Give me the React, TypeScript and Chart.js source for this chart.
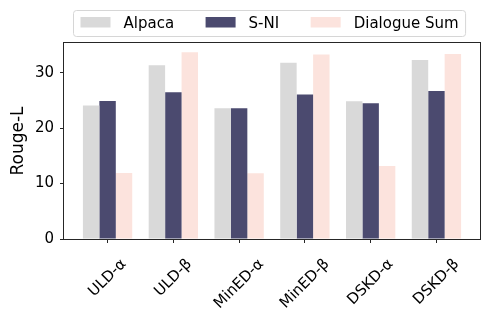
import React, { useEffect, useRef } from "react";
import { Chart, registerables } from "chart.js";

Chart.register(...registerables);

const categories = ["ULD-α", "ULD-β", "MinED-α", "MinED-β", "DSKD-α", "DSKD-β"];
const seriesNames = ["Alpaca", "S-NI", "Dialogue Sum"];
const alpaca = [24.1, 31.35, 23.6, 31.8, 24.85, 32.3];
const sni = [24.9, 26.5, 23.6, 26.1, 24.5, 26.7];
const dialogue = [11.9, 33.7, 11.85, 33.3, 13.2, 33.4];
const yTicks = [0, 10, 20, 30];
const colors = ["#d9d9d9", "#4b4a6f", "#fce3dd"];

const FONT = "'DejaVu Sans', sans-serif";

const framePlugin = {
  id: "frame",
  afterDraw(chart: any) {
    const ctx = chart.ctx;
    const a = chart.chartArea;
    ctx.save();
    ctx.strokeStyle = "#262626";
    ctx.lineWidth = 1;
    ctx.strokeRect(Math.round(a.left) - 0.5, Math.round(a.top) - 0.5, Math.round(a.right - a.left) + 1, Math.round(a.bottom - a.top) + 1);

    const xs = chart.scales.x;
    ctx.font = `15px ${FONT}`;
    ctx.fillStyle = "#000";
    ctx.textAlign = "center";
    ctx.textBaseline = "middle";
    const h = 17.5;
    const top = 255.5;
    categories.forEach((lab, i) => {
      const w = ctx.measureText(lab).width;
      const H = (w + h) * Math.SQRT1_2;
      const cx = xs.getPixelForValue(i);
      const cy = top + H / 2;
      ctx.save();
      ctx.translate(cx, cy);
      ctx.rotate(-Math.PI / 4);
      ctx.fillText(lab, 0, 0);
      ctx.restore();
    });

    ctx.save();
    ctx.font = `17px ${FONT}`;
    ctx.textAlign = "center";
    ctx.textBaseline = "alphabetic";
    ctx.translate(23.4, (a.top + a.bottom) / 2);
    ctx.rotate(-Math.PI / 2);
    ctx.fillText("Rouge-L", 0, 0);
    ctx.restore();

    const boxL = 73.5, boxT = 10.5, boxH = 26;
    ctx.font = `15px ${FONT}`;
    let x = boxL + 7;
    const items: { px: number; tx: number }[] = [];
    seriesNames.forEach((name) => {
      const px = x;
      const tx = px + 30 + 13;
      const tw = ctx.measureText(name).width;
      items.push({ px, tx });
      x = tx + tw + 31.5;
    });
    const lastW = ctx.measureText(seriesNames[seriesNames.length - 1]).width;
    const boxR = items[items.length - 1].tx + lastW + 7;
    ctx.beginPath();
    const r = 3;
    const bw = boxR - boxL;
    ctx.moveTo(boxL + r, boxT);
    ctx.arcTo(boxL + bw, boxT, boxL + bw, boxT + boxH, r);
    ctx.arcTo(boxL + bw, boxT + boxH, boxL, boxT + boxH, r);
    ctx.arcTo(boxL, boxT + boxH, boxL, boxT, r);
    ctx.arcTo(boxL, boxT, boxL + bw, boxT, r);
    ctx.closePath();
    ctx.fillStyle = "rgba(255,255,255,0.8)";
    ctx.fill();
    ctx.strokeStyle = "#d6d6d6";
    ctx.lineWidth = 1;
    ctx.stroke();
    seriesNames.forEach((name, i) => {
      ctx.fillStyle = colors[i];
      ctx.fillRect(items[i].px, 17, 30, 10.5);
      ctx.fillStyle = "#000";
      ctx.textAlign = "left";
      ctx.textBaseline = "alphabetic";
      ctx.fillText(name, items[i].tx, 28);
    });
    ctx.restore();
  },
};

export default function App() {
  const ref = useRef<HTMLCanvasElement | null>(null);
  useEffect(() => {
    if (!ref.current) return;
    const allVals = [...alpaca, ...sni, ...dialogue];
    const yMax = Math.max(...allVals) * 1.05;
    const n = categories.length;
    const xMargin = (n - 1 + 0.75) * 0.05;
    const mk = (arr: number[]) => arr.map((v, i) => ({ x: i, y: v }));
    const chart = new Chart(ref.current, {
      type: "bar",
      data: {
        datasets: [
          { label: seriesNames[0], data: mk(alpaca), backgroundColor: colors[0] },
          { label: seriesNames[1], data: mk(sni), backgroundColor: colors[1] },
          { label: seriesNames[2], data: mk(dialogue), backgroundColor: colors[2] },
        ] as any,
      },
      options: {
        animation: false,
        responsive: false,
        devicePixelRatio: 1,
        layout: { padding: { left: 0, right: 10, top: 43, bottom: 0 } },
        plugins: { legend: { display: false }, tooltip: { enabled: false } },
        datasets: { bar: { categoryPercentage: 0.75, barPercentage: 1.0 } } as any,
        scales: {
          x: {
            type: "linear",
            offset: false,
            min: -0.375 - xMargin,
            max: n - 1 + 0.375 + xMargin,
            afterBuildTicks: (s: any) => {
              s.ticks = categories.map((_, i) => ({ value: i }));
            },
            afterFit: (s: any) => {
              s.height = 77;
            },
            ticks: { display: false },
            grid: { display: true, drawOnChartArea: false, drawTicks: true, tickLength: 4, color: "#262626", offset: false },
            border: { display: false },
          },
          y: {
            min: 0,
            max: yMax,
            afterBuildTicks: (s: any) => {
              s.ticks = yTicks.map((v) => ({ value: v }));
            },
            afterFit: (s: any) => {
              s.width = 64;
            },
            ticks: { font: { family: FONT, size: 15 }, color: "#000", padding: 6 },
            grid: { display: true, drawOnChartArea: false, drawTicks: true, tickLength: 4, color: "#262626" },
            border: { display: false },
          },
        },
      } as any,
      plugins: [framePlugin],
    });
    return () => chart.destroy();
  }, []);
  return (
    <div style={{ position: "fixed", left: 0, top: 0, width: 490, height: 316, background: "#fff" }}>
      <canvas ref={ref} width={490} height={316} style={{ width: 490, height: 316 }} />
    </div>
  );
}
